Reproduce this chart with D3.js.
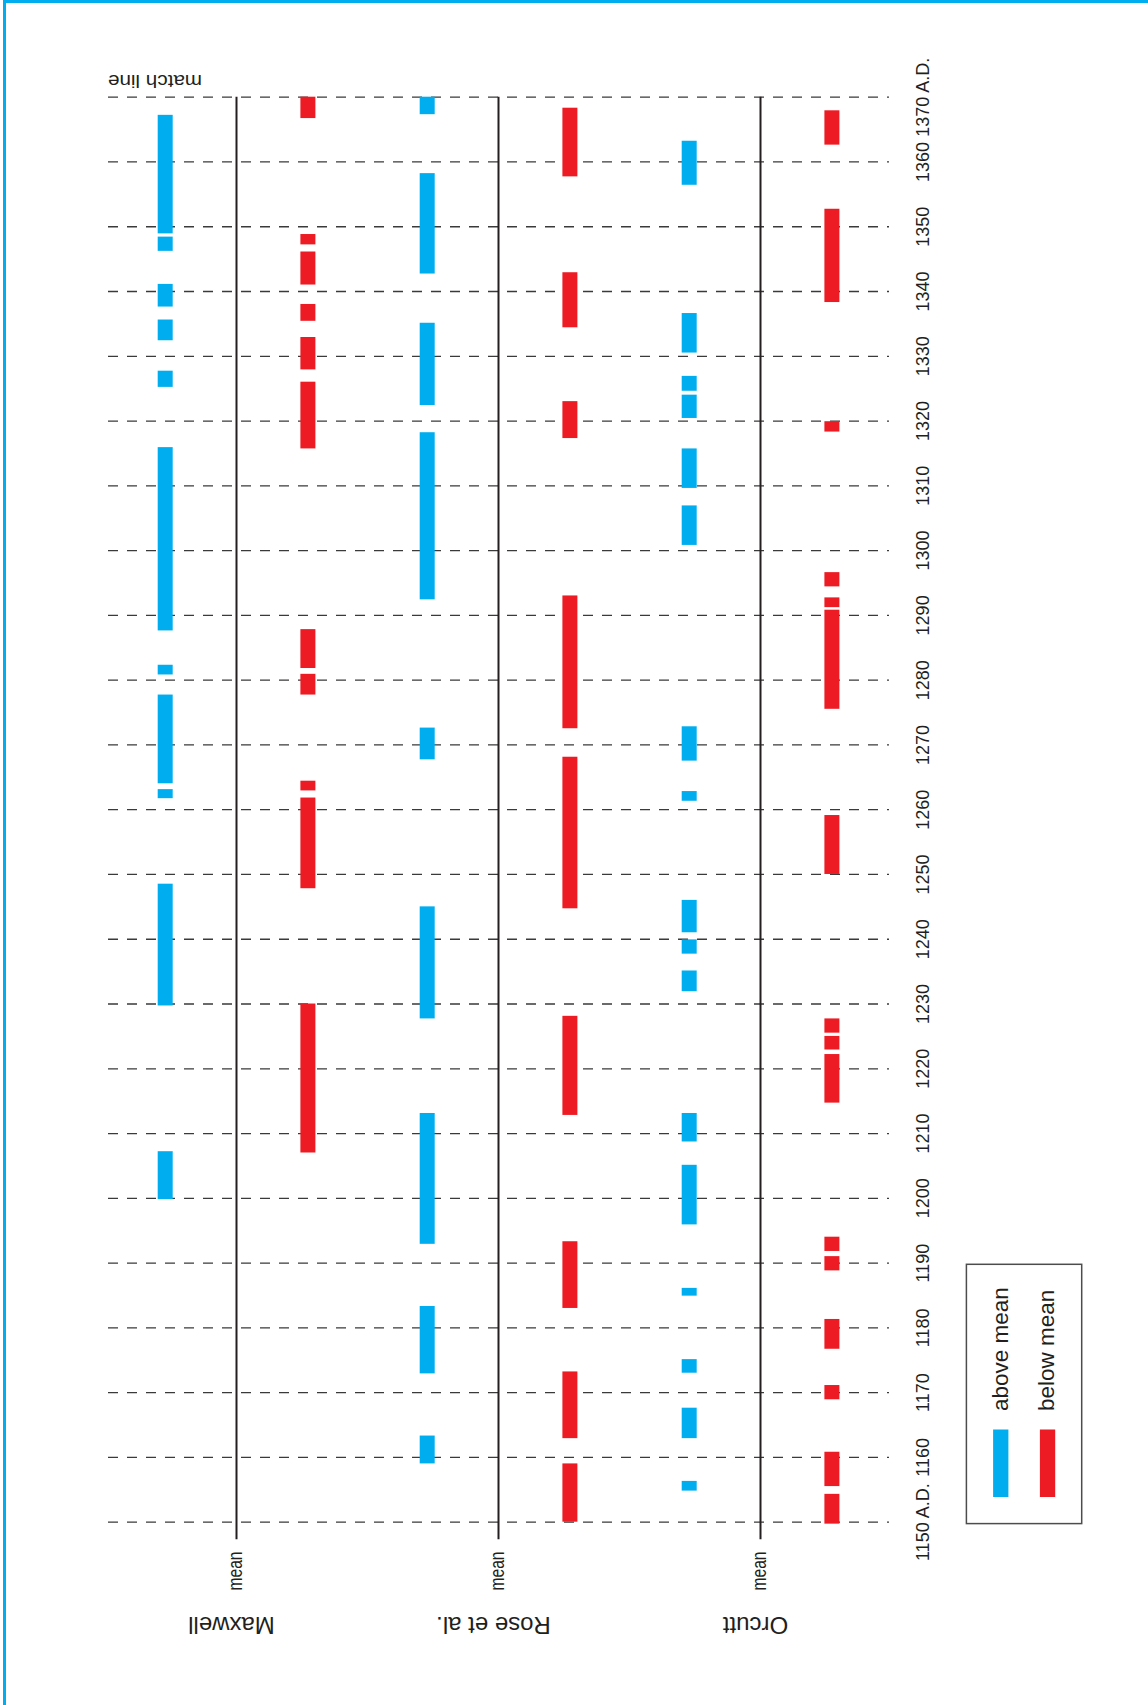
<!DOCTYPE html>
<html>
<head>
<meta charset="utf-8">
<script src="https://cdn.jsdelivr.net/npm/d3@7"></script>
<style>
  html, body { margin: 0; padding: 0; background: #fff; }
  svg { display: block; }
  text { font-family: "Liberation Sans", Arial, Helvetica, sans-serif; fill: #231f20; }
</style>
</head>
<body>
<svg id="chart" width="1148" height="1705"></svg>
<script>
// Year ticks along the time axis
const tickYears = [1150, 1160, 1170, 1180, 1190, 1200, 1210, 1220, 1230, 1240, 1250,
                   1260, 1270, 1280, 1290, 1300, 1310, 1320, 1330, 1340, 1350, 1360, 1370];
const seriesNames = ["Maxwell", "Rose et al.", "Orcutt"];
const legendLabels = ["above mean", "below mean"];

// Spans of years [from, to] above / below the mean for each reconstruction
const maxwellAbove = [[1348.9, 1367.2], [1346.2, 1348.4], [1337.6, 1341.1], [1332.4, 1335.6],
  [1325.2, 1327.7], [1287.6, 1315.9], [1280.8, 1282.3], [1264.0, 1277.7], [1261.7, 1263.1],
  [1229.7, 1248.5], [1199.8, 1207.2]];
const maxwellBelow = [[1366.7, 1370.0], [1347.2, 1348.8], [1341.0, 1346.1], [1335.4, 1338.0],
  [1327.9, 1332.9], [1315.7, 1326.0], [1281.8, 1287.8], [1277.7, 1280.9], [1262.9, 1264.4],
  [1247.8, 1261.8], [1207.0, 1230.0]];
const roseAbove = [[1367.3, 1370.0], [1342.7, 1358.2], [1322.4, 1335.1], [1292.4, 1318.2],
  [1267.7, 1272.6], [1227.7, 1245.0], [1192.9, 1213.1], [1172.9, 1183.3], [1159.0, 1163.3]];
const roseBelow = [[1357.7, 1368.3], [1334.4, 1342.9], [1317.3, 1323.0], [1272.5, 1293.0],
  [1244.7, 1268.1], [1212.8, 1228.1], [1183.0, 1193.3], [1162.9, 1173.2], [1150.0, 1159.0]];
const orcuttAbove = [[1356.4, 1363.2], [1330.5, 1336.6], [1324.6, 1326.9], [1320.4, 1324.0],
  [1309.6, 1315.7], [1300.8, 1306.9], [1267.5, 1272.8], [1261.3, 1262.8], [1241.0, 1246.0],
  [1237.7, 1239.9], [1231.9, 1235.1], [1208.7, 1213.1], [1195.9, 1205.1], [1184.9, 1186.1],
  [1173.0, 1175.1], [1162.9, 1167.6], [1154.8, 1156.3]];
const orcuttBelow = [[1362.6, 1367.9], [1338.3, 1352.7], [1318.3, 1319.9], [1294.4, 1296.6],
  [1291.2, 1292.7], [1275.5, 1290.8], [1250.0, 1259.1], [1225.5, 1227.7], [1222.9, 1225.0],
  [1214.7, 1222.2], [1191.8, 1194.0], [1188.8, 1191.0], [1176.7, 1181.3], [1168.9, 1171.1],
  [1155.5, 1160.8], [1149.7, 1154.3]];

const spans = [
  { series: "Maxwell", kind: "above", list: maxwellAbove },
  { series: "Maxwell", kind: "below", list: maxwellBelow },
  { series: "Rose et al.", kind: "above", list: roseAbove },
  { series: "Rose et al.", kind: "below", list: roseBelow },
  { series: "Orcutt", kind: "above", list: orcuttAbove },
  { series: "Orcutt", kind: "below", list: orcuttBelow }
].flatMap(s => s.list.map(([a, b]) => ({ series: s.series, kind: s.kind, from: a, to: b })));

const BLUE = "#00aeef", RED = "#ed1c24";
const svg = d3.select("#chart");

// outer frame
svg.append("rect")
  .attr("x", 4.5).attr("y", 1.5).attr("width", 1300).attr("height", 1900)
  .attr("fill", "none").attr("stroke", BLUE).attr("stroke-width", 3);

// scales: time runs bottom (1150) to top (1370)
const y = d3.scaleLinear().domain([1150, 1370]).range([1521.7, 96.7]);
const x = d3.scalePoint().domain(seriesNames).range([236.5, 760.5]);
const side = d3.scaleOrdinal().domain(["above", "below"]).range([-71.3, 71.4]);
const colour = d3.scaleOrdinal().domain(["above", "below"]).range([BLUE, RED]);
const barW = 15;

// dashed year grid with rotated labels
const gridLeft = 108, gridLen = 781;
const axis = d3.axisRight(y)
  .tickValues(tickYears)
  .tickSize(gridLen)
  .tickFormat(d => (d === 1150 || d === 1370) ? d + " A.D." : String(d));
const gAxis = svg.append("g").attr("transform", `translate(${gridLeft},0)`).call(axis);
gAxis.select(".domain").remove();
gAxis.selectAll(".tick line")
  .attr("stroke", "#3a3a3a").attr("stroke-width", 1.3)
  .attr("stroke-dasharray", "10,9");
gAxis.selectAll(".tick text")
  .attr("x", null).attr("dy", null)
  .attr("transform", `translate(${929 - gridLeft},0) rotate(-90)`)
  .attr("text-anchor", "middle")
  .attr("font-size", 18)
  .attr("font-family", "'Liberation Sans', Arial, sans-serif")
  .attr("fill", "#231f20");

// mean lines
svg.append("g").selectAll("line")
  .data(seriesNames).join("line")
  .attr("x1", d => x(d)).attr("x2", d => x(d))
  .attr("y1", y(1370)).attr("y2", y(1150) + 17.5)
  .attr("stroke", "#231f20").attr("stroke-width", 2);

// above / below mean spans
svg.append("g").selectAll("rect")
  .data(spans).join("rect")
  .attr("x", d => x(d.series) + side(d.kind) - barW / 2)
  .attr("width", barW)
  .attr("y", d => y(d.to))
  .attr("height", d => y(d.from) - y(d.to))
  .attr("fill", d => colour(d.kind));

// "mean" labels under each line
svg.append("g").selectAll("text")
  .data(seriesNames).join("text")
  .attr("transform", d => `translate(${x(d) + 5.2},1571) rotate(-90) scale(0.78,1)`)
  .attr("text-anchor", "middle")
  .attr("font-size", 20)
  .text("mean");

// series names, upside down
svg.append("g").selectAll("text")
  .data(seriesNames).join("text")
  .attr("transform", d => `translate(${x(d) - 5},1617) rotate(180)`)
  .attr("text-anchor", "middle")
  .attr("font-size", 24)
  .text(d => d);

// match line note
svg.append("text")
  .attr("transform", `translate(155,75) rotate(180) scale(1.15,1)`)
  .attr("text-anchor", "middle")
  .attr("font-size", 18)
  .text("match line");

// legend
const legend = svg.append("g");
legend.append("rect")
  .attr("x", 966.4).attr("y", 1264.3).attr("width", 115.3).attr("height", 259.3)
  .attr("fill", "none").attr("stroke", "#4d4d4d").attr("stroke-width", 1.5);
const legendX = d3.scalePoint().domain(legendLabels).range([1000.7, 1047.5]);
const legendKind = d3.scaleOrdinal().domain(legendLabels).range(["above", "below"]);
legend.selectAll("rect.sw")
  .data(legendLabels).join("rect").attr("class", "sw")
  .attr("x", d => legendX(d) - 7.6).attr("width", 15.3)
  .attr("y", 1429.5).attr("height", 67.5)
  .attr("fill", d => colour(legendKind(d)));
legend.selectAll("text")
  .data(legendLabels).join("text")
  .attr("transform", d => `translate(${legendX(d) + 6.8},1411) rotate(-90)`)
  .attr("text-anchor", "start")
  .attr("font-size", 22.5)
  .text(d => d);
</script>
</body>
</html>
